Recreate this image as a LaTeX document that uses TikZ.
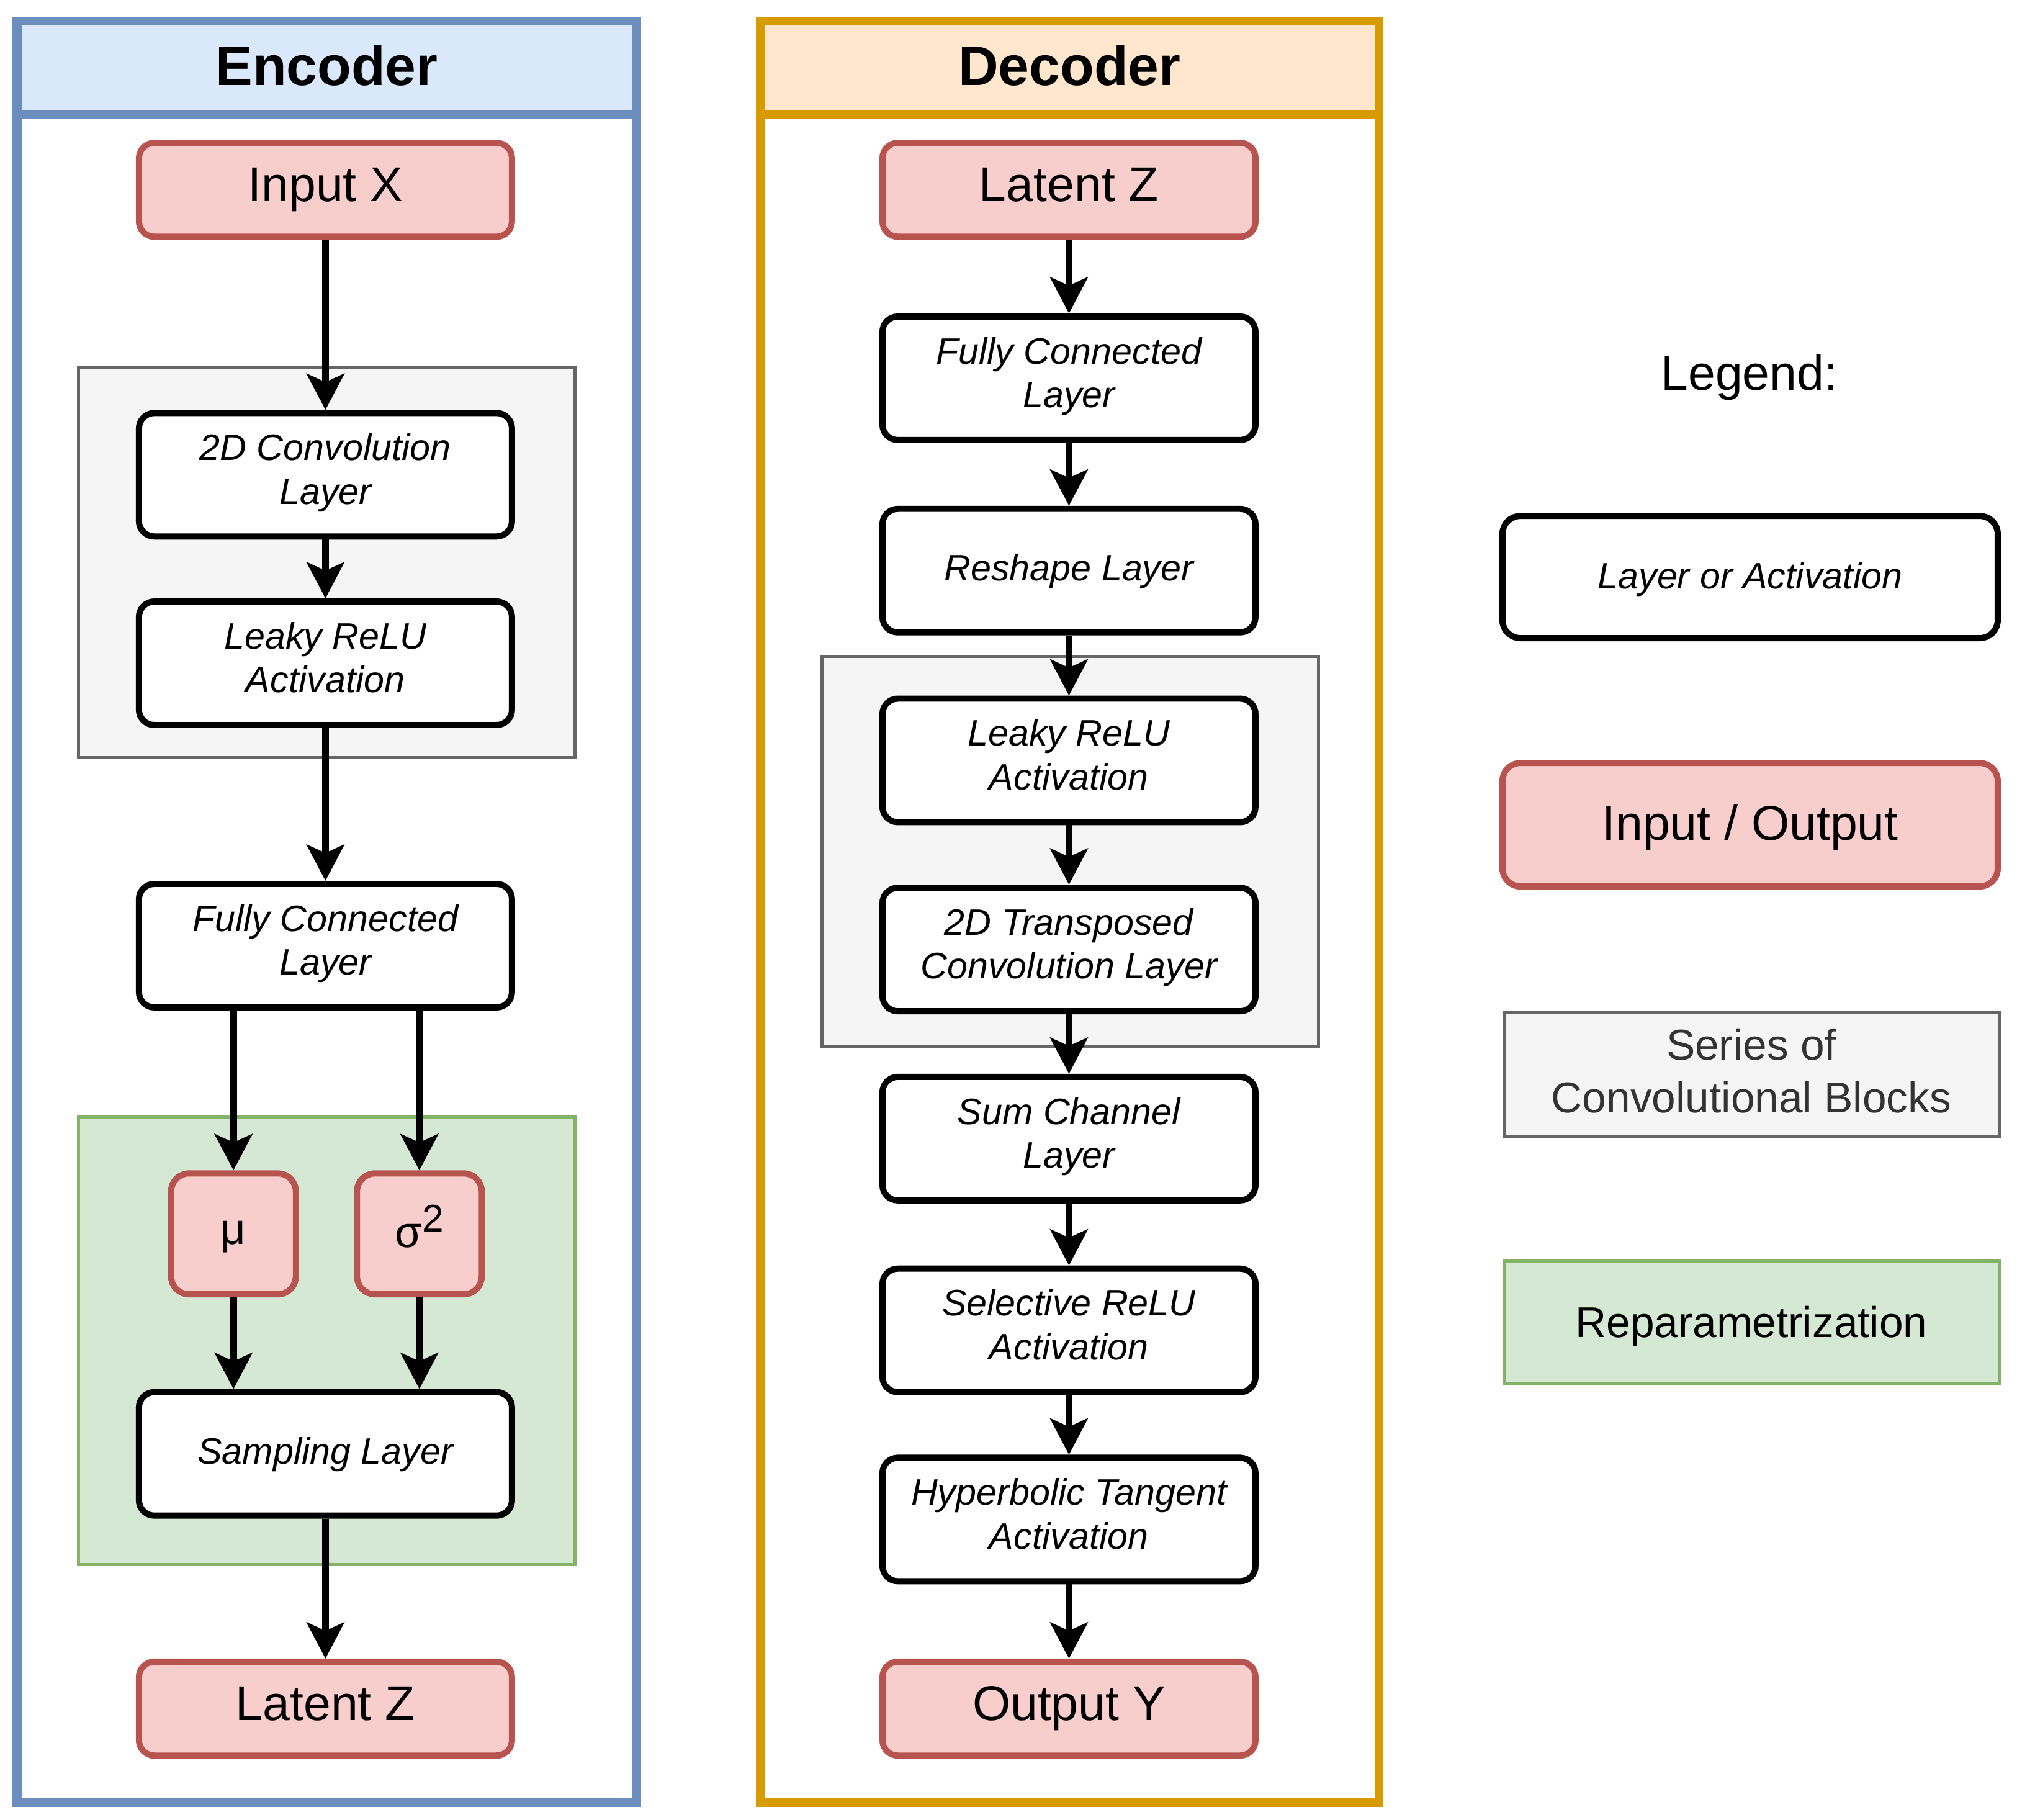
\documentclass[tikz,border=0pt]{standalone}
\usepackage{fontspec}
\setmainfont{Liberation Sans}
\usetikzlibrary{arrows.meta}
\definecolor{encline}{HTML}{6C8EBF}
\definecolor{encfill}{HTML}{DAE8FC}
\definecolor{decline}{HTML}{D79B00}
\definecolor{decfill}{HTML}{FFE6CC}
\definecolor{ioline}{HTML}{B85450}
\definecolor{iofill}{HTML}{F8CECC}
\definecolor{grayline}{HTML}{666666}
\definecolor{grayfill}{HTML}{F5F5F5}
\definecolor{graytext}{HTML}{333333}
\definecolor{greenline}{HTML}{82B366}
\definecolor{greenfill}{HTML}{D5E8D4}
% strut whose baseline is lowered by #1
\newcommand{\shiftstrut}[1]{\rule[\dimexpr-0.3\baselineskip+#1\relax]{0pt}{\baselineskip}}
\tikzset{
  struts/.style={execute at begin node={\shiftstrut{#1}}, execute at end node={\shiftstrut{#1}}},
  struts/.default=0pt,
  layerbox/.style={draw=black, fill=white, line width=2.4pt, rounded corners=6pt,
    minimum width=145pt, minimum height=48pt, inner sep=0pt, align=center,
    font=\fontsize{14.3}{17}\selectfont\itshape, struts=0.5pt},
  iobox/.style={draw=ioline, fill=iofill, line width=2.4pt, rounded corners=6pt,
    minimum width=145pt, minimum height=36.5pt, inner sep=0pt, align=center,
    font=\fontsize{19}{23}\selectfont, struts=0pt},
  mubox/.style={draw=ioline, fill=iofill, line width=2.4pt, rounded corners=7pt,
    minimum width=48.5pt, minimum height=47pt, inner sep=0pt, align=center,
    font=\fontsize{17}{20}\selectfont, struts=0pt},
  graybg/.style={draw=grayline, fill=grayfill, line width=1.2pt},
  greenbg/.style={draw=greenline, fill=greenfill, line width=1.2pt},
  arr/.style={draw=black, line width=2.8pt,
    -{Stealth[length=14pt, width=14.5pt, inset=3.2pt]}},
  titletext/.style={font=\fontsize{21.6}{26}\selectfont\bfseries, struts=0pt},
}
\begin{document}
\begin{tikzpicture}[x=0.5pt, y=-0.5pt]
\useasboundingbox (0,0) rectangle (1568,1414.5);
% ---------- Encoder frame ----------
\fill[encfill] (13.3,16.4) rectangle (495,89);
\draw[encline, line width=3.6pt] (13.3,16.4) rectangle (495,1401);
\draw[encline, line width=3.6pt] (13.3,89) -- (495,89);
\node[titletext] (enctitle) at (254,56) {Encoder};
% ---------- Decoder frame ----------
\fill[decfill] (591,16.4) rectangle (1072,89);
\draw[decline, line width=3.6pt] (591,16.4) rectangle (1072,1401);
\draw[decline, line width=3.6pt] (591,89) -- (1072,89);
\node[titletext] (dectitle) at (831.5,56) {Decoder};
% ---------- group backgrounds ----------
\draw[graybg] (61,286) rectangle (447,589);
\draw[greenbg] (61,868) rectangle (447,1216);
\draw[graybg] (639,510) rectangle (1025,813);
% ---------- Encoder nodes ----------
\node[iobox] (ein) at (253,147.5) {Input X};
\node[layerbox] (econv) at (253,369) {2D Convolution\\Layer};
\node[layerbox] (eleaky) at (253,515.5) {Leaky ReLU\\Activation};
\node[layerbox] (efc) at (253,735) {Fully Connected\\Layer};
\node[mubox] (mu) at (181.5,959) {μ};
\node[mubox, struts=1.6pt] (sig) at (326,959) {σ\raisebox{5.9pt}{\fontsize{15}{15}\selectfont 2}};
\node[layerbox] (esamp) at (253,1130) {Sampling Layer};
\node[iobox] (eout) at (253,1328) {Latent Z};
% ---------- Decoder nodes ----------
\node[iobox] (din) at (831,147.5) {Latent Z};
\node[layerbox] (dfc) at (831,294) {Fully Connected\\Layer};
\node[layerbox] (dres) at (831,443.5) {Reshape Layer};
\node[layerbox] (dleaky) at (831,591) {Leaky ReLU\\Activation};
\node[layerbox] (dtrans) at (831,738) {2D Transposed\\Convolution Layer};
\node[layerbox] (dsum) at (831,885) {Sum Channel\\Layer};
\node[layerbox] (dsel) at (831,1034) {Selective ReLU\\Activation};
\node[layerbox] (dtanh) at (831,1181) {Hyperbolic Tangent\\Activation};
\node[iobox] (dout) at (831,1328) {Output Y};
% ---------- Legend ----------
\node[font=\fontsize{19}{23}\selectfont, struts=1.5pt] (legtitle) at (1360,291) {Legend:};
\node[layerbox, minimum width=192.5pt, minimum height=47.5pt, rounded corners=7pt, struts=1.7pt] (leg1) at (1360.5,448.5) {Layer or Activation};
\node[iobox, minimum width=192.5pt, minimum height=48pt, rounded corners=7pt, struts=2.7pt] (leg2) at (1360.5,641) {Input / Output};
\node[graybg, minimum width=192.5pt, minimum height=48pt, inner sep=0pt, align=center, text=graytext,
  font=\fontsize{16.75}{20.5}\selectfont, struts=3.5pt] (leg3) at (1361.5,835) {Series of\\Convolutional Blocks};
\node[greenbg, minimum width=192.5pt, minimum height=47.5pt, inner sep=0pt, align=center,
  font=\fontsize{16.75}{20.5}\selectfont, struts=1.9pt] (leg4) at (1361.5,1027.5) {Reparametrization};
% ---------- Encoder arrows ----------
\draw[arr] (ein.south) -- (econv.north);
\draw[arr] (econv.south) -- (eleaky.north);
\draw[arr] (eleaky.south) -- (efc.north);
\draw[arr] (mu.north |- efc.south) -- (mu.north);
\draw[arr] (sig.north |- efc.south) -- (sig.north);
\draw[arr] (mu.south) -- (mu.south |- esamp.north);
\draw[arr] (sig.south) -- (sig.south |- esamp.north);
\draw[arr] (esamp.south) -- (eout.north);
% ---------- Decoder arrows ----------
\draw[arr] (din.south) -- (dfc.north);
\draw[arr] (dfc.south) -- (dres.north);
\draw[arr] (dres.south) -- (dleaky.north);
\draw[arr] (dleaky.south) -- (dtrans.north);
\draw[arr] (dtrans.south) -- (dsum.north);
\draw[arr] (dsum.south) -- (dsel.north);
\draw[arr] (dsel.south) -- (dtanh.north);
\draw[arr] (dtanh.south) -- (dout.north);
\end{tikzpicture}
\end{document}
